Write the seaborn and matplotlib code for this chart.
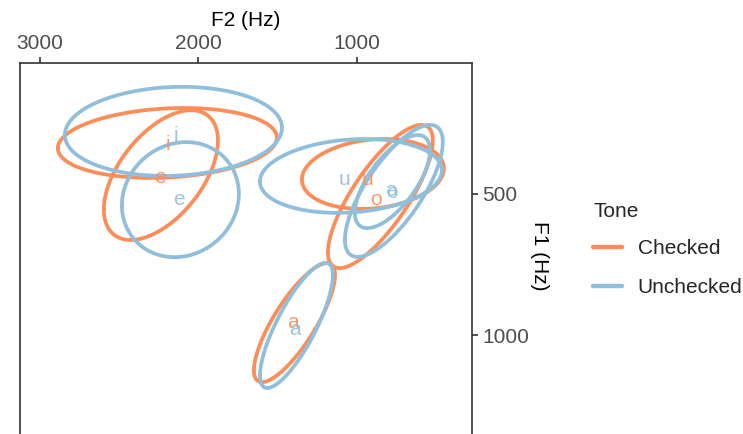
import numpy as np
import pandas as pd
import matplotlib
matplotlib.use("Agg")
import matplotlib.pyplot as plt
import seaborn as sns

# ---- data (Hz) ----
tones   = ["Checked"] * 5 + ["Unchecked"] * 6
vowels  = ["i", "e", "u", "o", "a", "i", "e", "u", "o", "ə", "a"]
mean_F2 = [2196, 2237, 899, 852, 1394, 2158, 2114, 1038, 767, 776, 1382]
mean_F1 = [319, 433, 429, 509, 956, 278, 520, 436, 489, 456, 966]
sd_F2   = [691, 360, 448, 331, 256, 685, 369, 574, 309, 237, 230]
sd_F1   = [124, 230, 124, 254, 211, 158, 204, 131, 234, 165, 222]
corr    = [0.15, 0.53, 0.16, 0.78, 0.80, 0.08, 0.10, 0.15, 0.74, 0.67, 0.80]
label_F2 = [2192, 2243, 931, 880, 1404, 2142, 2123, 1076, 779, 786, 1391]
label_F1 = [326, 443, 450, 521, 957, 294, 521, 450, 493, 486, 982]

tone_order = ["Checked", "Unchecked"]
palette = {"Checked": "#FC8D59", "Unchecked": "#91BFDB"}

# ---- ellipse paths built from means / sds / correlations ----
t = np.linspace(0, 2 * np.pi, 241)
rows = []
for k in range(len(vowels)):
    r = corr[k]
    f2 = mean_F2[k] + sd_F2[k] * np.cos(t)
    f1 = mean_F1[k] + sd_F1[k] * (r * np.cos(t) + np.sqrt(1 - r * r) * np.sin(t))
    for j in range(len(t)):
        rows.append({"F2": f2[j], "F1": f1[j], "Tone": tones[k], "id": k, "step": j})
df = pd.DataFrame(rows)

sns.set_theme(style="white")
plt.rcParams["font.family"] = ["Liberation Sans", "DejaVu Sans"]

fig = plt.figure(figsize=(7.43, 4.34), dpi=100)
ax = fig.add_axes([20 / 743, 0.0, 452 / 743, 1 - 63 / 434])

sns.lineplot(data=df, x="F2", y="F1", hue="Tone", hue_order=tone_order,
             units="id", estimator=None, sort=False, palette=palette,
             linewidth=2.7, ax=ax)

for k in range(len(vowels)):
    ax.text(label_F2[k], label_F1[k], vowels[k], color=palette[tones[k]],
            fontsize=15, ha="center", va="center", alpha=0.9, zorder=5)

ax.set_xlim(3126, 274)
ax.set_ylim(1351, 35.5)
ax.set_xticks([3000, 2000, 1000])
ax.set_yticks([500, 1000])

ax.xaxis.tick_top()
ax.xaxis.set_label_position("top")
ax.yaxis.tick_right()
ax.yaxis.set_label_position("right")

ax.tick_params(axis="both", which="both", labelsize=15, labelcolor="#4D4D4D",
               color="#333333", width=1.2, length=4.5, pad=2.5)
ax.tick_params(axis="x", bottom=False, top=True)
ax.tick_params(axis="y", left=False, right=True, pad=3)

ax.set_xlabel("F2 (Hz)", fontsize=15, color="black", va="center", ha="center")
ax.xaxis.set_label_coords(0.5, (434 - 20) / 371)
ax.set_ylabel("F1 (Hz)", fontsize=15, color="black", rotation=270, va="center", ha="center")
ax.yaxis.set_label_coords((540 - 20) / 452, (434 - 256) / 371)

for side in ["top", "left", "right"]:
    ax.spines[side].set_visible(True)
    ax.spines[side].set_color("#333333")
    ax.spines[side].set_linewidth(1.2)
ax.spines["bottom"].set_visible(False)
ax.grid(False)

sns.move_legend(ax, "upper left", bbox_to_anchor=(593 / 743, 1 - 202 / 434),
                bbox_transform=fig.transFigure, frameon=False, title="Tone",
                fontsize=15, title_fontsize=15, borderpad=0, borderaxespad=0,
                handlelength=1.4, handletextpad=0.75, labelspacing=0.95,
                alignment="left")
leg = ax.get_legend()
leg._legend_box.sep = 13
for line in leg.get_lines():
    line.set_linewidth(3.2)

fig.savefig("out.png", dpi=100)
